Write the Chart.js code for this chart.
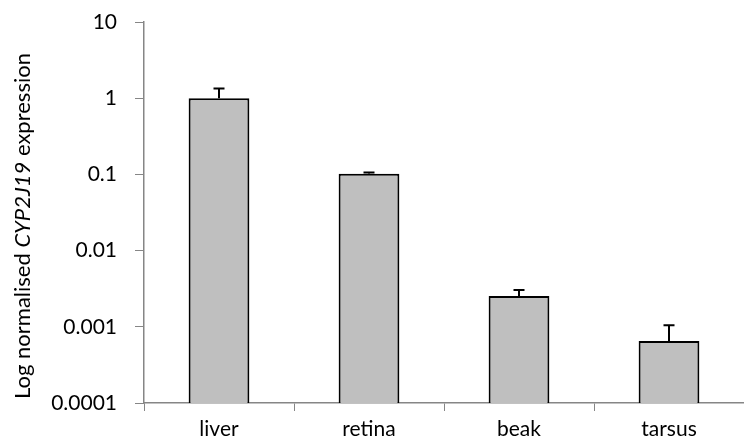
<!DOCTYPE html>
<html>
<head>
<meta charset="utf-8">
<script src="https://cdn.jsdelivr.net/npm/chart.js@4"></script>
<style>
html,body{margin:0;padding:0;background:#fff;}
#wrap{width:744px;height:447px;position:relative;}
</style>
</head>
<body>
<div id="wrap"><canvas id="c" width="744" height="447"></canvas></div>
<script>
const categories = ['liver', 'retina', 'beak', 'tarsus'];
const expression = [1.0, 0.102, 0.00254, 0.00065];
const errorUpper = [0.34, 0.004, 0.0005, 0.0004];
const yTickValues = [0.0001, 0.001, 0.01, 0.1, 1, 10];
const yTickLabels = ['0.0001', '0.001', '0.01', '0.1', '1', '10'];
const titleParts = [
  { text: 'Log normalised ', italic: false },
  { text: 'CYP2J19', italic: true },
  { text: ' expression', italic: false }
];

const FONT = 'Lato';
const axisColor = '#868686';

const errorBarPlugin = {
  id: 'errorBars',
  afterDatasetsDraw(chart) {
    const meta = chart.getDatasetMeta(0);
    const y = chart.scales.y;
    const ctx = chart.ctx;
    ctx.save();
    ctx.strokeStyle = '#000';
    ctx.lineWidth = 2;
    meta.data.forEach((bar, i) => {
      const top = y.getPixelForValue(expression[i] + errorUpper[i]);
      ctx.beginPath();
      ctx.moveTo(bar.x, bar.y);
      ctx.lineTo(bar.x, top);
      ctx.moveTo(bar.x - 5.5, top);
      ctx.lineTo(bar.x + 5.5, top);
      ctx.stroke();
    });
    ctx.restore();
  }
};

const titlePlugin = {
  id: 'mixedTitle',
  afterDraw(chart) {
    const ctx = chart.ctx;
    ctx.save();
    const size = 22;
    const fonts = titleParts.map(p => (p.italic ? 'italic ' : '') + size + 'px ' + FONT);
    let widths = titleParts.map((p, i) => { ctx.font = fonts[i]; return ctx.measureText(p.text).width; });
    const total = widths.reduce((a, b) => a + b, 0);
    ctx.translate(23, 226);
    ctx.rotate(-Math.PI / 2);
    ctx.fillStyle = '#000';
    ctx.textBaseline = 'middle';
    ctx.textAlign = 'left';
    let x = -total / 2;
    titleParts.forEach((p, i) => {
      ctx.font = fonts[i];
      ctx.fillText(p.text, x, 0);
      x += widths[i];
    });
    ctx.restore();
  }
};

new Chart(document.getElementById('c'), {
  type: 'bar',
  data: {
    labels: categories,
    datasets: [{
      data: expression,
      backgroundColor: '#bfbfbf',
      borderColor: '#000',
      borderWidth: 2,
      borderSkipped: 'bottom',
      categoryPercentage: 1,
      barPercentage: 0.405
    }]
  },
  options: {
    responsive: false,
    animation: false,
    devicePixelRatio: 1,
    layout: { padding: { top: 22, right: 0, bottom: 0, left: 0 } },
    plugins: { legend: { display: false }, tooltip: { enabled: false } },
    scales: {
      x: {
        type: 'category',
        offset: true,
        grid: { offset: true, drawOnChartArea: false, drawTicks: true, tickLength: 8, color: axisColor, lineWidth: 1 },
        border: { color: axisColor, width: 1.5 },
        ticks: { color: '#000', font: { family: FONT, size: 21 }, padding: 6 },
        afterFit(s) { s.height = 44; s.paddingLeft = 0; s.paddingRight = 0; }
      },
      y: {
        type: 'logarithmic',
        min: 0.0001,
        max: 10,
        grid: { drawOnChartArea: false, drawTicks: true, tickLength: 9, color: axisColor, lineWidth: 1 },
        border: { color: axisColor, width: 1.5 },
        afterBuildTicks(s) { s.ticks = yTickValues.map(v => ({ value: v })); },
        ticks: {
          color: '#000',
          font: { family: FONT, size: 21 },
          padding: 18,
          autoSkip: false,
          callback(v) { const i = yTickValues.indexOf(v); return i >= 0 ? yTickLabels[i] : ''; }
        },
        afterFit(s) { s.width = 144; s.paddingTop = 0; s.paddingBottom = 0; }
      }
    }
  },
  plugins: [errorBarPlugin, titlePlugin]
});
</script>
</body>
</html>
